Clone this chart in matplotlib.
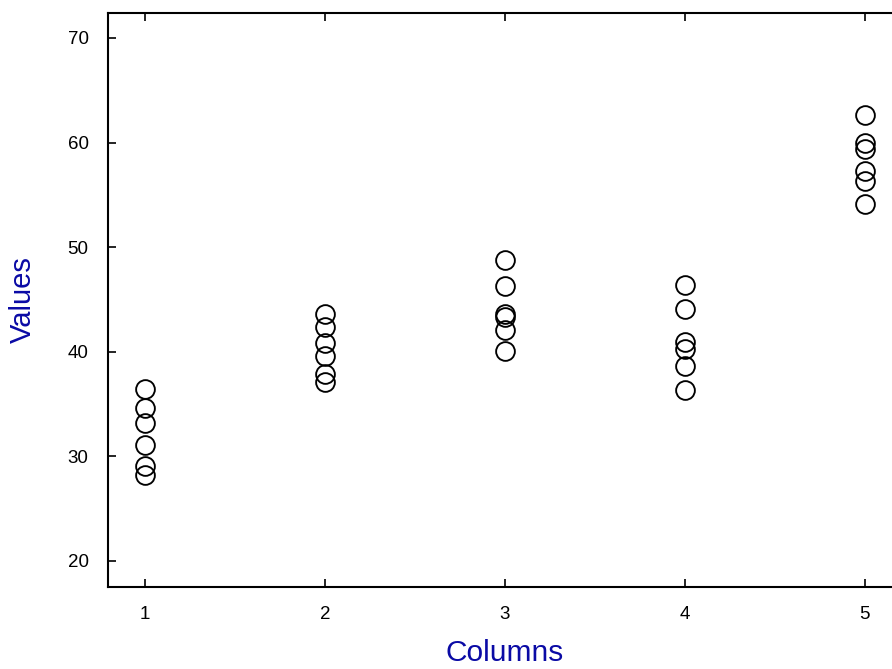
import matplotlib
matplotlib.use("Agg")
import matplotlib.pyplot as plt

plt.rcParams['font.family'] = ['Liberation Sans', 'DejaVu Sans']

columns = [1, 2, 3, 4, 5]
col1 = [36.4, 34.6, 33.2, 31.1, 29.1, 28.2]
col2 = [43.6, 42.4, 40.8, 39.6, 37.9, 37.1]
col3 = [48.8, 46.3, 43.6, 43.3, 42.1, 40.1]
col4 = [46.4, 44.1, 40.9, 40.3, 38.6, 36.3]
col5 = [62.6, 60.0, 59.4, 57.3, 56.3, 54.1]
series = [col1, col2, col3, col4, col5]
yticks = [20, 30, 40, 50, 60, 70]

fig = plt.figure(figsize=(8.92, 6.69), dpi=100)
ax = fig.add_axes([108/892, 82/669, 794/892, 574/669])

for c, vals in zip(columns, series):
    ax.plot([c]*len(vals), vals, linestyle='none', marker='o', markersize=13.5,
            markerfacecolor='none', markeredgecolor='black', markeredgewidth=1.35)

ax.set_xlim(0.794, 5.206)
ax.set_ylim(17.51, 72.39)
ax.set_xticks(columns)
ax.set_yticks(yticks)
ax.tick_params(direction='in', length=6, width=1.2, labelsize=13.5, pad=14,
               top=True, bottom=True, left=True, right=False, labeltop=False)
for s in ['left', 'bottom', 'top']:
    ax.spines[s].set_linewidth(1.5)
ax.spines['right'].set_visible(False)

ax.set_xlabel('Columns', fontsize=21.5, color='#0A0AA5', labelpad=11)
ax.set_ylabel('Values', fontsize=21, color='#0A0AA5', labelpad=22)

fig.savefig('out.png', dpi=100)
